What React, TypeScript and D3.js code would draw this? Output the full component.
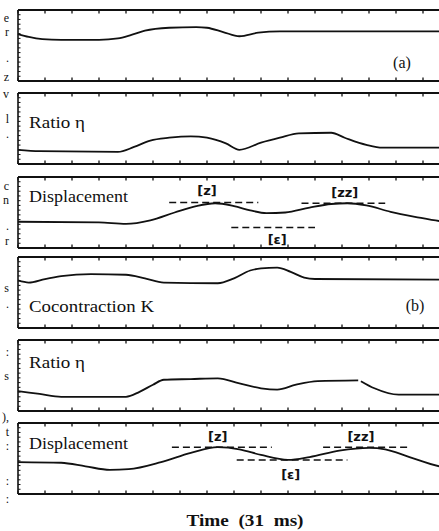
import React from "react";
import { scaleLinear, line, curveMonotoneX, range } from "d3";

// time axis in tick units (one tick = 31 ms / div)
const timeTicks = range(0, 17);

// traces, [t, value] with value as fraction of panel height
const cocontractionA: [number, number | null][] = [
  [0, 0.66], [0.4, 0.62], [0.9, 0.59], [1.6, 0.58], [3.0, 0.58], [3.7, 0.6],
  [4.2, 0.65], [4.7, 0.71], [5.6, 0.75], [6.6, 0.76], [7.0, 0.75], [7.6, 0.69],
  [8.2, 0.63], [8.9, 0.68], [9.7, 0.7], [11.2, 0.7], [16, 0.7],
];
const ratioA: [number, number | null][] = [
  [0, 0.2], [0.8, 0.18], [3.7, 0.17], [4.3, 0.24], [4.9, 0.33], [5.6, 0.37],
  [6.4, 0.39], [7.0, 0.37], [7.7, 0.29], [8.2, 0.2], [9.0, 0.3], [9.7, 0.37],
  [10.4, 0.43], [11.6, 0.44], [12.1, 0.37], [12.9, 0.27], [13.5, 0.23], [16, 0.23],
];
const displacementA: [number, number | null][] = [
  [0, 0.37], [3.0, 0.36], [4.0, 0.34], [4.9, 0.39], [5.8, 0.5], [6.6, 0.59],
  [7.3, 0.63], [8.0, 0.59], [8.6, 0.53], [9.2, 0.49], [9.9, 0.5], [10.8, 0.57],
  [11.6, 0.62], [12.2, 0.63], [12.9, 0.6], [13.8, 0.51], [14.7, 0.44], [15.6, 0.38], [16, 0.37],
];
const cocontractionB: [number, number | null][] = [
  [0, 0.67], [0.4, 0.64], [1.0, 0.69], [1.6, 0.73], [2.7, 0.76], [4.0, 0.75],
  [4.7, 0.7], [5.4, 0.64], [7.4, 0.63], [8.0, 0.7], [8.6, 0.81], [9.0, 0.84],
  [9.6, 0.85], [10.1, 0.79], [10.6, 0.71], [11.0, 0.69], [16, 0.68],
];
const ratioB: [number, number | null][] = [
  [0, 0.28], [0.8, 0.24], [1.6, 0.2], [4.0, 0.2], [4.5, 0.27], [5.0, 0.37],
  [5.4, 0.44], [6.4, 0.45], [7.4, 0.46], [8.2, 0.39], [9.0, 0.32], [9.6, 0.3],
  [10.3, 0.37], [11.1, 0.42], [12.6, 0.43], [12.65, null], [12.7, 0.42],
  [13.2, 0.32], [14.1, 0.23], [16, 0.23],
];
const displacementB: [number, number | null][] = [
  [0, 0.45], [1.6, 0.44], [2.5, 0.39], [3.4, 0.34], [4.1, 0.35], [5.3, 0.45],
  [6.4, 0.58], [7.4, 0.66], [8.2, 0.63], [9.0, 0.55], [10.0, 0.48], [10.8, 0.52],
  [11.9, 0.61], [13.0, 0.65], [13.6, 0.63], [14.5, 0.52], [15.6, 0.39], [16, 0.36],
];

const traces = [cocontractionA, ratioA, displacementA, cocontractionB, ratioB, displacementB];
const panelLabels = ["", "Ratio η", "Displacement", "Cocontraction K", "Ratio η", "Displacement"];
const caseLabels = ["(a)", "", "", "(b)", "", ""];

// dashed reference levels: [panel, t0, t1, level], labels: [panel, t, value, text]
const levelLines: [number, number, number, number][] = [
  [2, 5.6, 8.9, 0.64], [2, 10.5, 13.6, 0.63], [2, 7.9, 11.0, 0.29],
  [5, 5.7, 9.4, 0.66], [5, 11.3, 14.5, 0.66], [5, 8.1, 12.2, 0.48],
];
const levelTags: [number, number, number, string][] = [
  [2, 7.0, 0.74, "[z]"], [2, 12.1, 0.72, "[zz]"], [2, 9.6, 0.06, "[ε]"],
  [5, 7.4, 0.74, "[z]"], [5, 12.7, 0.74, "[zz]"], [5, 10.1, 0.21, "[ε]"],
];

// clipped letters from the neighbouring text column
const sideText: [string, number][] = [
  ["e", 22], ["r", 36], [".", 62], ["z", 81], ["v", 98], ["l", 123], [".", 138],
  ["c", 190], ["n", 204], [".", 230], ["r", 245], ["s", 292], [".", 308],
  [":", 356], ["s", 380], ["),", 421], ["t", 436], [":", 450], [":", 485], [":", 503],
];

const PANEL_TOPS = [10, 93, 177, 257, 340, 423];
const PANEL_H = 71;
const LEFT = 18;
const LABEL_BASE = [0, 128, 202, 312, 368, 449];

export default function App() {
  const x = scaleLinear().domain([0, 16]).range([LEFT, LEFT + 16 * 27]);
  const serif = "'Liberation Serif', 'DejaVu Serif', serif";

  return (
    <svg width={439} height={531} style={{ position: "absolute", left: 0, top: 0, background: "#fff" }}>
      <rect width={439} height={531} fill="#fff" />
      {traces.map((data, i) => {
        const top = PANEL_TOPS[i];
        const y = scaleLinear().domain([0, 1]).range([top + PANEL_H, top]);
        const path = line<[number, number | null]>()
          .defined((d) => d[1] !== null)
          .x((d) => x(d[0]))
          .y((d) => y(d[1] as number))
          .curve(curveMonotoneX)(data);
        const minor = range(1, 15).map((k) => k / 15);
        const lbl = panelLabels[i];
        return (
          <g key={i}>
            <line x1={LEFT} x2={450} y1={top} y2={top} stroke="#111" strokeWidth={1.8} />
            <line x1={LEFT} x2={450} y1={top + PANEL_H} y2={top + PANEL_H} stroke="#111" strokeWidth={1.8} />
            <line x1={LEFT} x2={LEFT} y1={top} y2={top + PANEL_H} stroke="#111" strokeWidth={1.6} />
            {timeTicks.map((t) => (
              <g key={t}>
                <line x1={x(t)} x2={x(t)} y1={top} y2={top + 3.5} stroke="#111" strokeWidth={1.3} />
                <line x1={x(t)} x2={x(t)} y1={top + PANEL_H} y2={top + PANEL_H - 3.5} stroke="#111" strokeWidth={1.3} />
              </g>
            ))}
            {minor.map((m) => (
              <line key={m} x1={LEFT} x2={LEFT + 2.5} y1={y(m)} y2={y(m)} stroke="#111" strokeWidth={1} />
            ))}
            <path d={path ?? ""} fill="none" stroke="#111" strokeWidth={1.8} />
            {lbl && (
              <text x={LEFT + 11} y={LABEL_BASE[i]} fontFamily={serif} fontSize={17}
                textLength={lbl.startsWith("R") ? 56 : lbl.startsWith("D") ? 99 : 125}
                lengthAdjust="spacingAndGlyphs" fill="#111">
                {lbl}
              </text>
            )}
            {caseLabels[i] && (
              <text x={i === 0 ? 402 : 415} y={i === 0 ? 68 : 311} textAnchor="middle" fontFamily={serif} fontSize={16} fill="#111">
                {caseLabels[i]}
              </text>
            )}
          </g>
        );
      })}
      {levelLines.map(([p, t0, t1, v], k) => {
        const top = PANEL_TOPS[p];
        const y = scaleLinear().domain([0, 1]).range([top + PANEL_H, top]);
        return (
          <line key={k} x1={x(t0)} x2={x(t1)} y1={y(v)} y2={y(v)} stroke="#111" strokeWidth={1.5} strokeDasharray="7 4" />
        );
      })}
      {levelTags.map(([p, t, v, s], k) => {
        const top = PANEL_TOPS[p];
        const y = scaleLinear().domain([0, 1]).range([top + PANEL_H, top]);
        return (
          <text key={k} x={x(t)} y={y(v)} textAnchor="middle" fontFamily="'DejaVu Sans', sans-serif"
            fontWeight="bold" fontSize={13} fill="#111">
            {s}
          </text>
        );
      })}
      <text textAnchor="end" fontFamily={serif} fontSize={12} fill="#111">
        {sideText.map(([s, yy], k) => (
          <tspan key={k} x={9} y={yy}>{s}</tspan>
        ))}
      </text>
      <text x={245} y={526} textAnchor="middle" fontFamily={serif} fontWeight="bold" fontSize={17}
        textLength={117} lengthAdjust="spacingAndGlyphs" fill="#111" xmlSpace="preserve">
        Time  (31  ms)
      </text>
    </svg>
  );
}
